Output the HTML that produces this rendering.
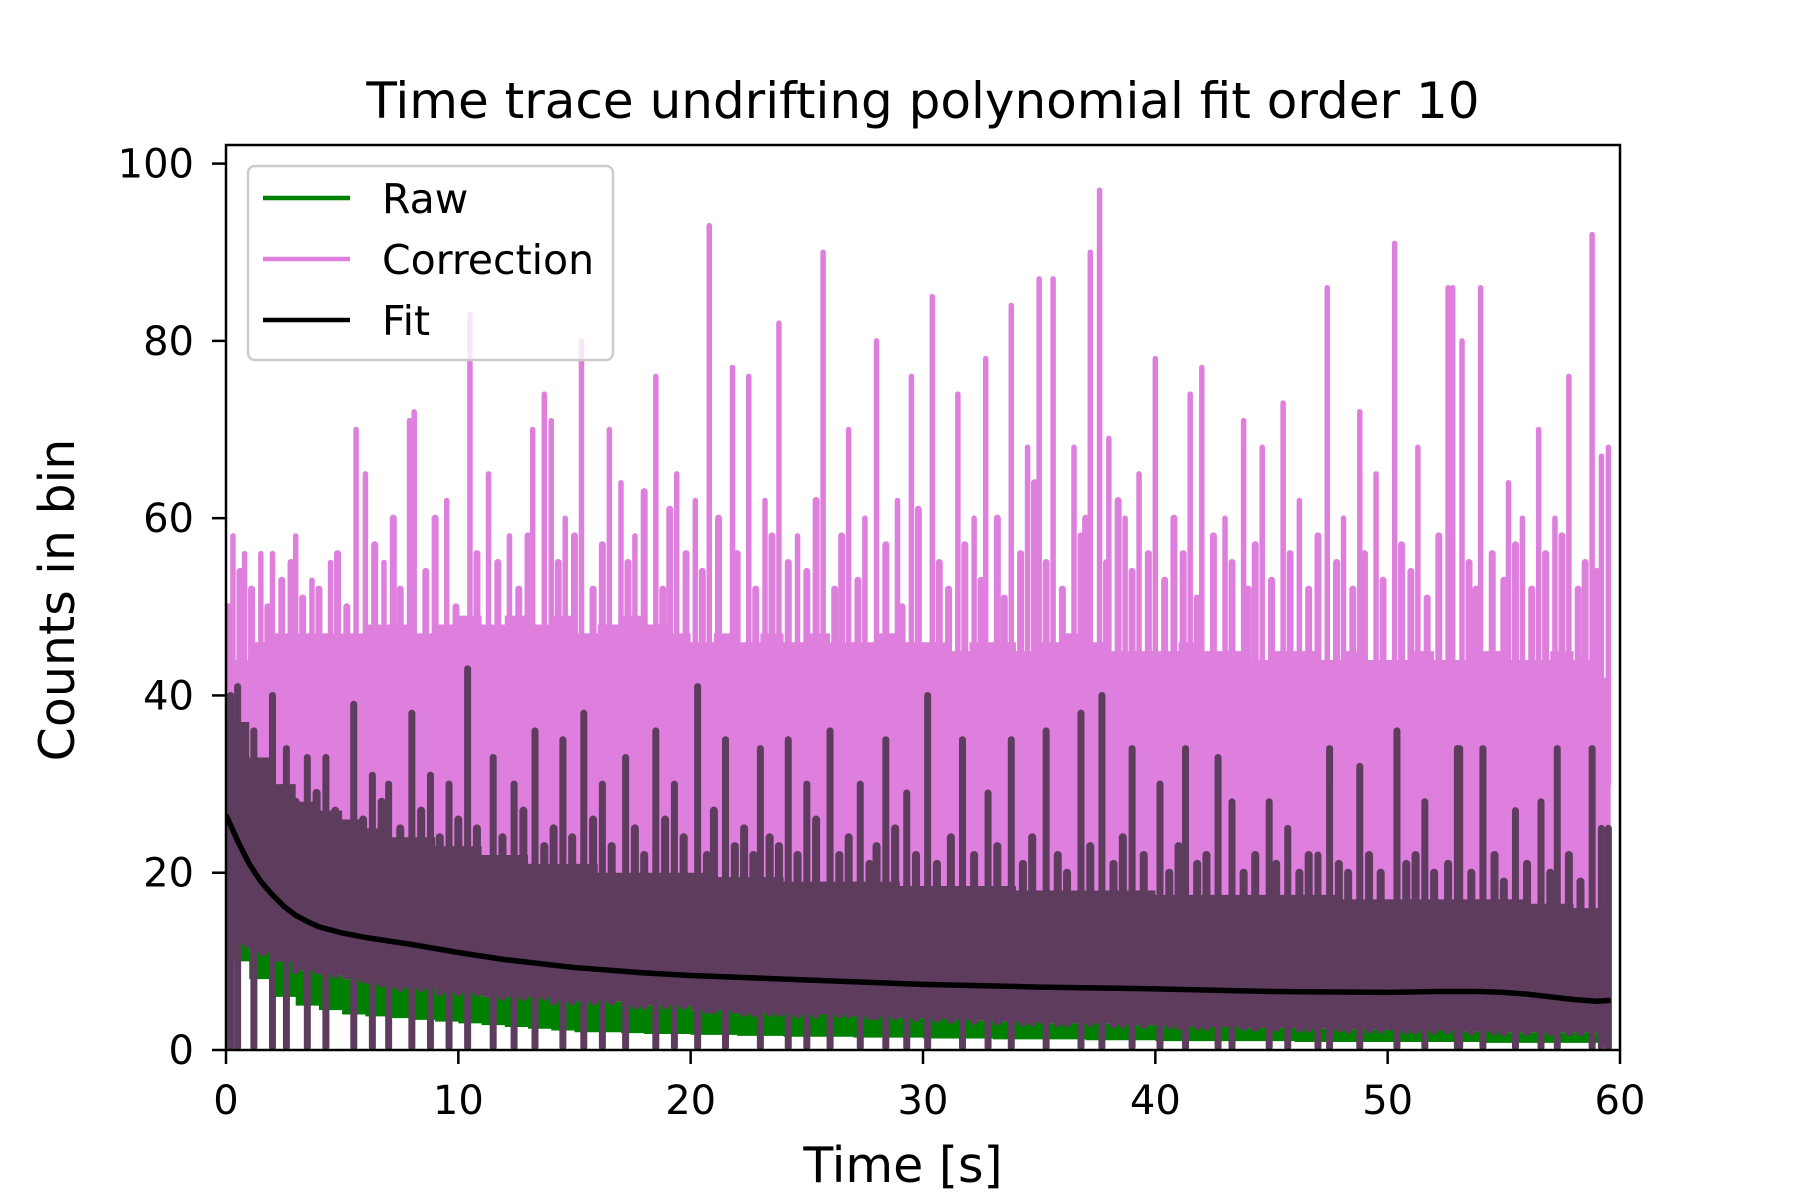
<!DOCTYPE html>
<html><head><meta charset="utf-8"><style>
html,body{margin:0;padding:0;background:#fff;}
svg{display:block;font-family:"DejaVu Sans","Liberation Sans",sans-serif;}
</style></head><body>
<svg id="chart" width="1800" height="1200" viewBox="0 0 1800 1200" xmlns="http://www.w3.org/2000/svg">
<rect width="1800" height="1200" fill="#fff"/>
<text x="923" y="118" font-size="50" text-anchor="middle">Time trace undrifting polynomial fit order 10</text>
<defs><clipPath id="plotclip"><rect x="226" y="145" width="1394" height="905"/></clipPath></defs>
<g id="plot" clip-path="url(#plotclip)"></g>
<rect x="226" y="145" width="1394" height="905" fill="none" stroke="#000" stroke-width="2.5"/>
<g id="axes"></g>
<text x="903" y="1182" font-size="49" text-anchor="middle">Time [s]</text>
<text transform="translate(74,600) rotate(-90)" font-size="49" text-anchor="middle">Counts in bin</text>
<g>
<rect x="248" y="166" width="365" height="194" rx="7" fill="#fff" fill-opacity="0.8" stroke="#ccc" stroke-width="2.5"/>
<line x1="263" y1="198" x2="350" y2="198" stroke="#008000" stroke-width="4.5"/>
<text x="382" y="213" font-size="41">Raw</text>
<line x1="263" y1="259" x2="350" y2="259" stroke="#DE7FDE" stroke-width="4.5"/>
<text x="382" y="274" font-size="41">Correction</text>
<line x1="263" y1="320" x2="350" y2="320" stroke="#000" stroke-width="4.5"/>
<text x="382" y="335" font-size="41">Fit</text>
</g>
</svg>
<script>
const xTicks=[0,10,20,30,40,50,60];
const yTicks=[0,20,40,60,80,100];
// per-1s-bin envelopes (bin i covers i..i+1 s)
const pinkTop=[44,46,47,47,47,47,48,48,47,48,49,48,49,48,49,47,48,49,48,47,46,47,46,47,46,47,46,46,47,46,46,45,46,46,45,46,47,46,45,45,45,46,45,45,44,45,45,44,45,44,44,45,44,44,45,44,44,45,44,42];
const darkTop=[37,33,30,28,27,26,25,24,24,23,23,22,22,21,21,21,20,20,20,20,20,19.5,19.5,19.5,19,19,19,19,19,18.5,18.5,18.5,18.5,18.5,18,18,18,18,18,18,17.5,17.5,17.5,17.5,17.5,17.5,17.5,17.5,17,17,17,17,17,17,17,17,16.5,16.5,16,16];
const greenTop=[12,11,10,9,8.5,8,7.5,7,7,6.5,6.5,6,6,6,5.5,5.5,5.5,5,5,5,4.5,4.5,4.2,4.2,4,4,4,3.8,3.8,3.6,3.5,3.4,3.3,3.2,3.1,3,3,3,2.9,2.8,2.8,2.7,2.6,2.6,2.5,2.5,2.4,2.4,2.3,2.3,2.2,2.2,2.2,2.1,2.1,2,2,2,2,2];
const greenLow=[10,8,6,5,4.5,4,3.8,3.6,3.4,3.2,3,2.8,2.6,2.4,2.2,2,2,1.9,1.8,1.8,1.7,1.7,1.6,1.6,1.5,1.5,1.5,1.4,1.4,1.4,1.3,1.3,1.3,1.2,1.2,1.2,1.2,1.1,1.1,1.1,1,1,1,1,1,1,0.9,0.9,0.9,0.9,0.9,0.9,0.9,0.9,0.8,0.8,0.8,0.8,0.8,0.8];
const pinkSpikeT=[0.3,0.8,1.5,2,3,3.7,4.5,5.6,6,6.8,7.9,8.1,9.5,10.5,11.3,12.2,13.2,13.7,14,14.6,15.3,16.5,17,17.6,18.5,19.4,20.2,20.8,21.8,22.5,23.2,23.8,24.6,25.7,26.8,27.5,28,28.9,29.5,30.4,31.5,32.2,32.7,33.8,34.5,35,35.6,36.5,37.2,37.6,38,38.7,39.3,40,41.5,42,43,43.8,44.6,45.5,46.2,47.4,48.1,48.8,49.5,50.3,51.3,52.6,52.8,53.2,54,55.2,55.8,56.5,57.2,57.8,58.8,59.2,59.5];
const pinkSpikeV=[58,56,56,56,58,53,55,70,65,55,71,72,62,83,65,58,70,74,71,60,80,70,64,58,76,65,62,93,77,76,62,82,58,90,70,60,80,62,76,85,74,60,78,84,68,87,87,68,90,97,69,60,65,78,74,77,60,71,68,73,62,86,60,72,65,91,68,86,86,80,86,64,60,70,60,76,92,67,68];
const pinkMidT=[0.1,0.6,1.1,1.8,2.4,2.8,3.3,4.0,4.8,5.2,6.4,7.2,7.5,8.6,9.0,9.9,10.8,11.7,12.6,13.0,14.3,15.0,15.8,16.2,17.3,18.0,18.8,19.1,19.8,20.5,21.2,22.0,22.8,23.5,24.2,25.0,25.4,26.2,26.5,27.2,28.4,29.1,29.8,30.7,31.1,31.8,32.5,33.2,33.5,34.2,34.8,35.3,36.0,36.8,37.0,37.9,38.4,39.0,39.7,40.4,40.8,41.2,41.8,42.5,43.3,44.0,44.3,45.0,45.8,46.6,47.0,47.8,48.5,49.0,49.8,50.6,51.0,51.7,52.2,53.5,53.8,54.5,55.0,55.5,56.2,56.8,57.5,58.2,58.5,59.0];
const pinkMidV=[50,54,52,50,53,55,51,52,56,50,57,60,52,54,60,50,56,55,52,58,55,58,52,57,55,63,52,61,56,54,60,56,52,58,55,54,62,52,58,53,57,50,61,55,52,57,53,60,51,56,64,55,52,58,60,55,62,54,56,53,60,56,51,58,55,52,57,53,56,52,58,55,52,56,53,57,54,51,58,55,52,56,53,57,52,56,58,52,55,54];
const darkSpikeT=[0.2,0.5,1.2,2,2.6,3.5,4.3,5.5,6.3,7,8,8.8,9.6,10.4,11.5,12.4,13.3,14.5,15.4,16.2,17.2,18.5,19.3,20.3,21.5,23,24.2,25,26,27.3,28.4,29.3,30.2,31.7,32.8,33.8,35.3,36.8,37.7,39,40.2,41.3,42.7,43.3,44.9,45.7,47,47.5,48.8,50.4,51.6,53,53.1,54.1,55.5,56.6,57.3,58.8,59.2,59.5];
const darkSpikeV=[40,41,36,40,34,33,33,39,31,30,38,31,30,43,33,30,36,35,38,30,33,36,30,41,35,34,35,30,36,30,35,29,40,35,29,35,36,38,40,34,30,34,33,28,28,25,22,34,32,36,28,34,34,34,27,28,34,34,25,25];
const darkMidT=[0.9,1.6,3.0,3.9,4.7,5.9,6.7,7.5,8.4,9.2,10.0,10.8,11.9,12.8,13.7,14.1,14.9,15.8,16.6,17.6,18.0,18.9,19.7,20.7,21.0,21.9,22.3,22.7,23.4,23.8,24.6,25.4,26.4,26.8,27.7,28.0,28.8,29.7,30.6,31.2,32.2,33.2,34.3,34.7,35.8,36.2,37.2,38.2,38.6,39.5,40.6,41.0,41.8,42.2,43.8,44.3,45.2,46.2,46.6,47.9,48.3,49.2,49.7,50.8,51.2,52.0,52.6,53.6,54.6,55.0,56.0,57.0,57.8,58.3];
const darkMidV=[32,30,28,29,27,26,28,25,27,24,26,25,24,27,23,25,24,26,23,25,22,26,24,22,27,23,25,22,24,23,22,26,22,24,21,23,25,22,21,24,22,23,21,24,22,20,23,21,24,22,20,23,21,22,20,22,21,20,22,21,20,22,20,21,22,20,21,20,22,19,21,20,22,19];
const fitT=[0,0.5,1,1.5,2,2.5,3,3.5,4,5,6,7,8,10,12,15,18,20,25,30,35,40,45,50,52,54,55,56,57,58,59,59.6];
const fitV=[26.5,23.6,21,19,17.5,16.2,15.2,14.5,13.9,13.2,12.7,12.3,11.9,11,10.2,9.3,8.7,8.4,7.9,7.4,7.1,6.9,6.6,6.5,6.6,6.6,6.5,6.3,6,5.7,5.5,5.6];

const X=t=>226+t*(1394/60);
const Y=v=>1050-v*(905/102.1);
const NS="http://www.w3.org/2000/svg";
const plot=document.getElementById('plot');
const axes=document.getElementById('axes');
function mk(tag,attrs,parent){const e=document.createElementNS(NS,tag);for(const k in attrs)e.setAttribute(k,attrs[k]);parent.appendChild(e);return e;}
const xEnd=i=>i===59?X(59.6):X(i+1);

// pink correction band
let d='';
for(let i=0;i<pinkTop.length;i++){d+=`M${X(i)},${Y(greenTop[i])}V${Y(pinkTop[i])}H${xEnd(i)}V${Y(greenTop[i])}Z`;}
const pb=mk('path',{d:d,fill:'#DE7FDE'},plot);


pinkMidT.forEach((t,i)=>{
  const l=mk('line',{x1:X(t),x2:X(t),y1:Y(30),y2:Y(pinkMidV[i]),stroke:'#DE7FDE','stroke-width':7,'stroke-linecap':'round'},plot);
  
  
});
pinkSpikeT.forEach((t,i)=>{
  const l=mk('line',{x1:X(t),x2:X(t),y1:Y(30),y2:Y(pinkSpikeV[i]),stroke:'#DE7FDE','stroke-width':5.5,'stroke-linecap':'round'},plot);
  
  
});
// green raw band
d='';
for(let i=0;i<greenTop.length;i++){d+=`M${X(i)},${Y(greenLow[i])}V${Y(greenTop[i])}H${xEnd(i)}V${Y(greenLow[i])}Z`;}
const gb=mk('path',{d:d,fill:'#008000'},plot);


// dark overlap band
d='';
for(let i=0;i<darkTop.length;i++){d+=`M${X(i)},${Y(greenTop[i])}V${Y(darkTop[i])}H${xEnd(i)}V${Y(greenTop[i])}Z`;}
const db=mk('path',{d:d,fill:'#5E3C5E'},plot);


darkMidT.forEach((t,i)=>{
  const base=greenTop[Math.min(59,Math.floor(t))];
  const l=mk('line',{x1:X(t),x2:X(t),y1:Y(base),y2:Y(darkMidV[i]),stroke:'#5E3C5E','stroke-width':8,'stroke-linecap':'round'},plot);
  
  
});
darkSpikeT.forEach((t,i)=>{
  const l=mk('line',{x1:X(t),x2:X(t),y1:Y(0.3),y2:Y(darkSpikeV[i]),stroke:'#5E3C5E','stroke-width':7,'stroke-linecap':'round'},plot);
  
  
});
// fit
const fp=mk('polyline',{points:fitT.map((t,i)=>X(t)+','+Y(fitV[i])).join(' '),fill:'none',stroke:'#000','stroke-width':5.5},plot);



xTicks.forEach(v=>{
  const l=mk('line',{x1:X(v),x2:X(v),y1:1050,y2:1064,stroke:'#000','stroke-width':2.5},axes);
  
  
  const t=mk('text',{x:X(v),y:1114,'font-size':40,'text-anchor':'middle'},axes);
  t.textContent=v;
  
  
});
yTicks.forEach(v=>{
  const l=mk('line',{x1:212,x2:226,y1:Y(v),y2:Y(v),stroke:'#000','stroke-width':2.5},axes);
  
  
  const t=mk('text',{x:194,y:Y(v)+14,'font-size':40,'text-anchor':'end'},axes);
  t.textContent=v;
  
  
});
</script>
</body></html>
